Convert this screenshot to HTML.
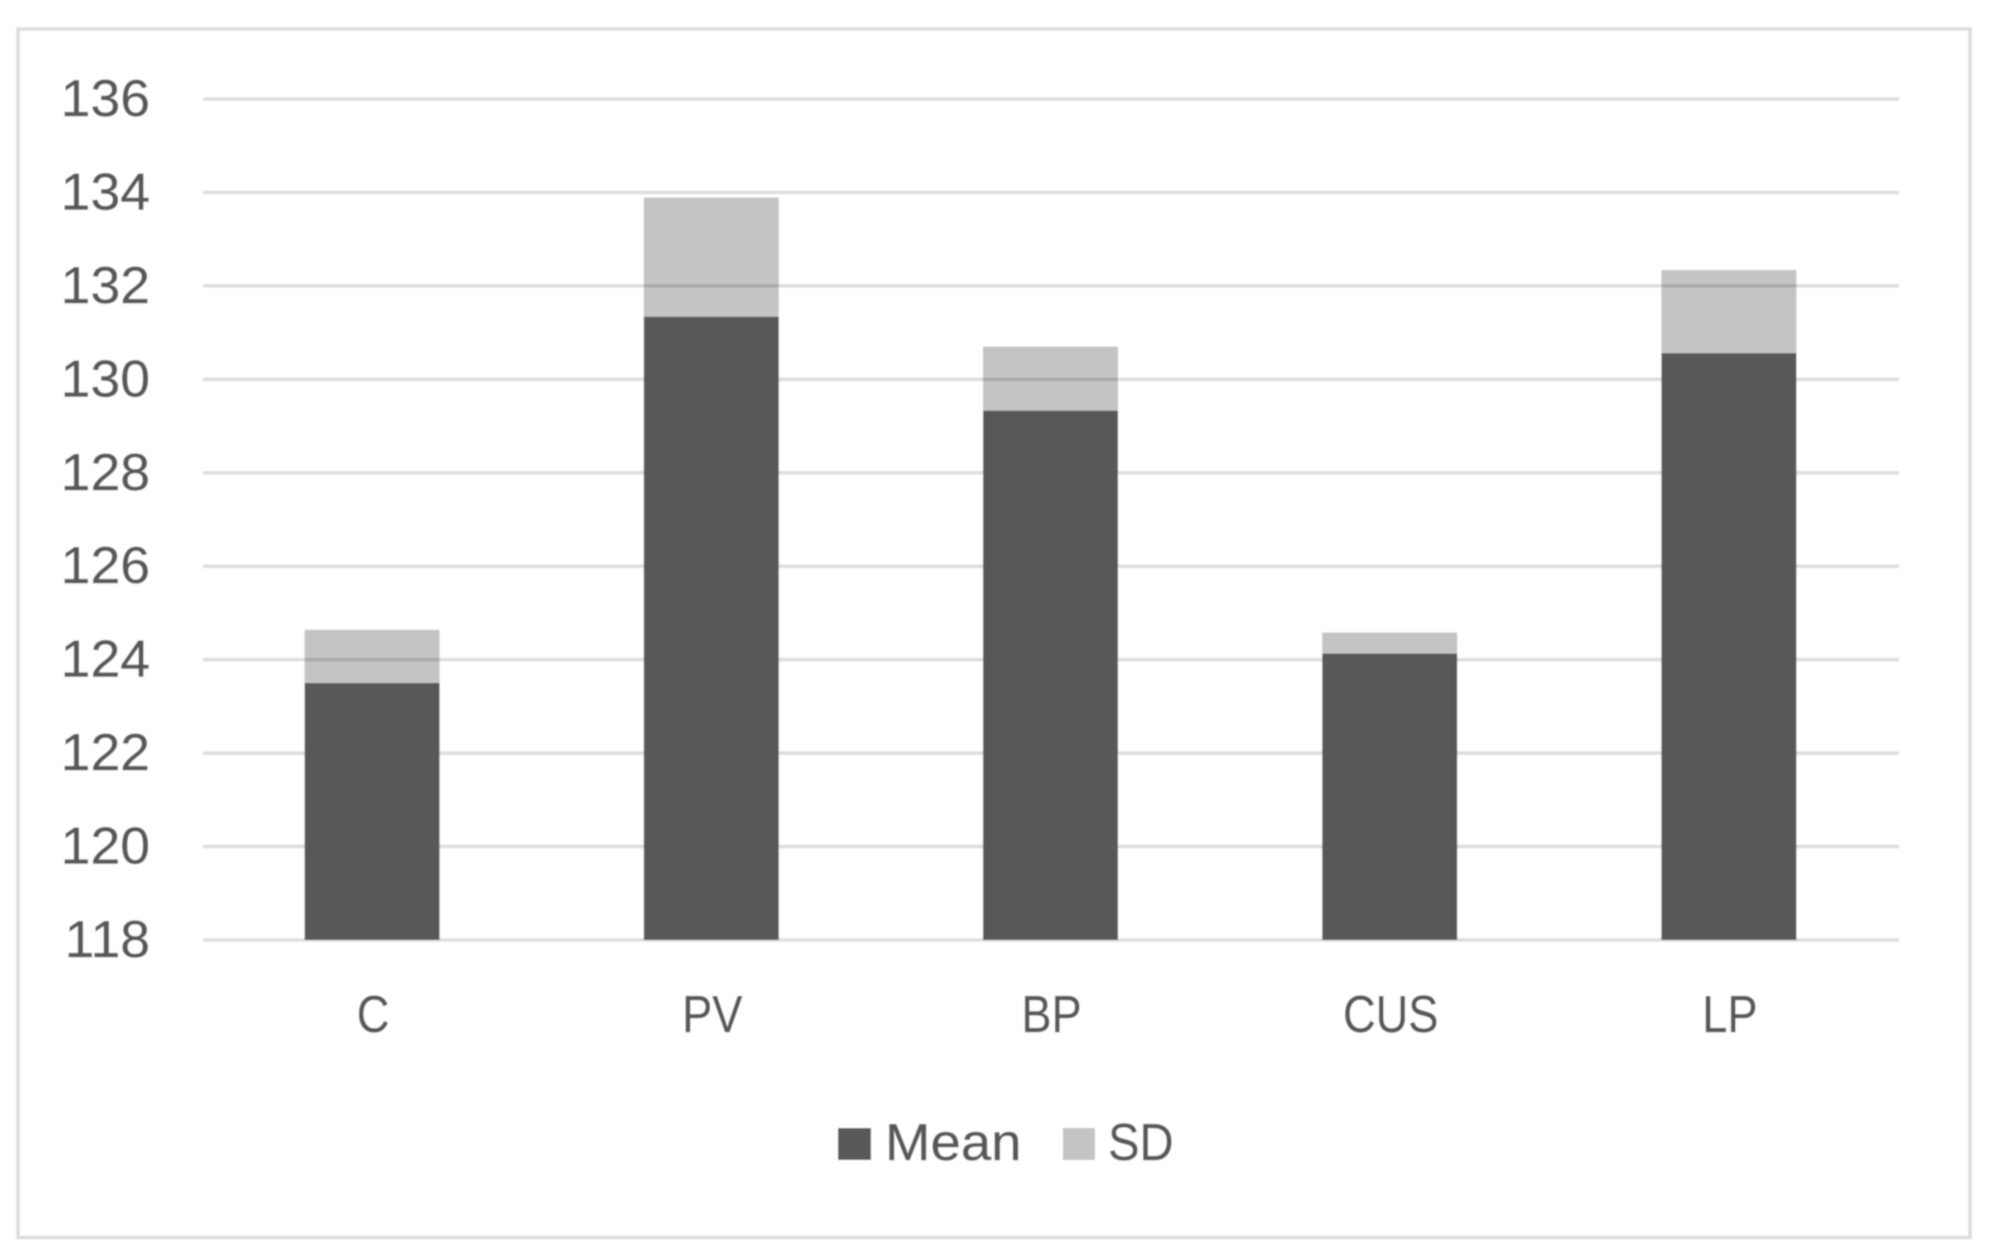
<!DOCTYPE html>
<html lang="en">
<head>
<meta charset="utf-8">
<title>Mean and SD stacked bar chart</title>
<style>
html,body{margin:0;padding:0;background:#fff;width:1992px;height:1256px;overflow:hidden}
svg{display:block}
text{font-family:"Liberation Sans",sans-serif;font-size:52px;fill:#595959;stroke:#595959;stroke-width:0.4px}
</style>
</head>
<body>
<svg id="chart" xmlns="http://www.w3.org/2000/svg" width="1992" height="1256" viewBox="0 0 1992 1256">
<defs><filter id="soft" x="-2%" y="-2%" width="104%" height="104%"><feGaussianBlur stdDeviation="0.9"/></filter></defs>
<rect x="0" y="0" width="1992" height="1256" fill="#ffffff"/>
<g id="root" filter="url(#soft)" style="isolation:isolate">
<rect x="18" y="29" width="1952" height="1208.5" fill="#ffffff" stroke="#dcdcdc" stroke-width="3.5"/>
<g id="grid"></g>
<g id="yaxis"></g>
<g id="bars"></g>
<g id="xaxis"></g>
<g>
<g>
<rect x="838" y="1128" width="33" height="32" fill="#595959"/>
<text x="0" y="1160" transform="translate(885 0) scale(1.05 1)">Mean</text>
</g>
<g>
<rect x="1063" y="1128" width="32" height="32" fill="#c4c4c4"/>
<text x="0" y="1160" transform="translate(1108 0) scale(0.91 1)">SD</text>
</g>
</g>
</g>
</svg>
<script>
const categories = ["C", "PV", "BP", "CUS", "LP"];
const meanValues = [123.50, 131.34, 129.33, 124.13, 130.56];
const sdValues = [1.14, 2.55, 1.37, 0.45, 1.78];
const yTicks = [118, 120, 122, 124, 126, 128, 130, 132, 134, 136];

const NS = "http://www.w3.org/2000/svg";
const plot = { left: 203, right: 1899, top: 99, bottom: 940 };
const barWidth = 135;
const yMin = yTicks[0];
const yMax = yTicks[yTicks.length - 1];

function yScale(v) {
  return plot.bottom - (v - yMin) / (yMax - yMin) * (plot.bottom - plot.top);
}
function bandCenter(i) {
  const band = (plot.right - plot.left) / categories.length;
  return plot.left + band * (i + 0.5);
}
function slug(s) {
  return String(s).toLowerCase();
}

const gridGroup = document.getElementById("grid");
const yGroup = document.getElementById("yaxis");
const barGroup = document.getElementById("bars");
const xGroup = document.getElementById("xaxis");

yTicks.forEach(function (t) {
  const y = yScale(t);
  const line = document.createElementNS(NS, "line");
  
  
  line.setAttribute("x1", plot.left);
  line.setAttribute("x2", plot.right);
  line.setAttribute("y1", y);
  line.setAttribute("y2", y);
  line.setAttribute("stroke", "#dedede");
  line.setAttribute("stroke-width", "3.5");
  gridGroup.appendChild(line);

  const label = document.createElementNS(NS, "text");
  
  
  label.setAttribute("x", 0);
  label.setAttribute("y", 0);
  label.setAttribute("text-anchor", "end");
  label.setAttribute("transform", "translate(150 " + (y + 17) + ") scale(1.03 1)");
  label.textContent = t;
  yGroup.appendChild(label);
});

categories.forEach(function (c, i) {
  const cx = bandCenter(i) - 0.5;
  const yMean = yScale(meanValues[i]);
  const yTotal = yScale(meanValues[i] + sdValues[i]);

  const sd = document.createElementNS(NS, "rect");
  
  
  sd.setAttribute("x", cx - barWidth / 2);
  sd.setAttribute("y", yTotal);
  sd.setAttribute("width", barWidth);
  sd.setAttribute("height", yMean - yTotal);
  sd.setAttribute("fill", "#c4c4c4");
  sd.setAttribute("style", "mix-blend-mode:multiply");
  barGroup.appendChild(sd);

  const mean = document.createElementNS(NS, "rect");
  
  
  mean.setAttribute("x", cx - barWidth / 2);
  mean.setAttribute("y", yMean);
  mean.setAttribute("width", barWidth);
  mean.setAttribute("height", yScale(yMin) - yMean);
  mean.setAttribute("fill", "#595959");
  barGroup.appendChild(mean);

  const label = document.createElementNS(NS, "text");
  
  
  label.setAttribute("x", 0);
  label.setAttribute("y", 1032);
  label.setAttribute("text-anchor", "middle");
  label.setAttribute("transform", "translate(" + (cx + 1) + " 0) scale(0.87 1)");
  label.textContent = c;
  xGroup.appendChild(label);
});
</script>
</body>
</html>
